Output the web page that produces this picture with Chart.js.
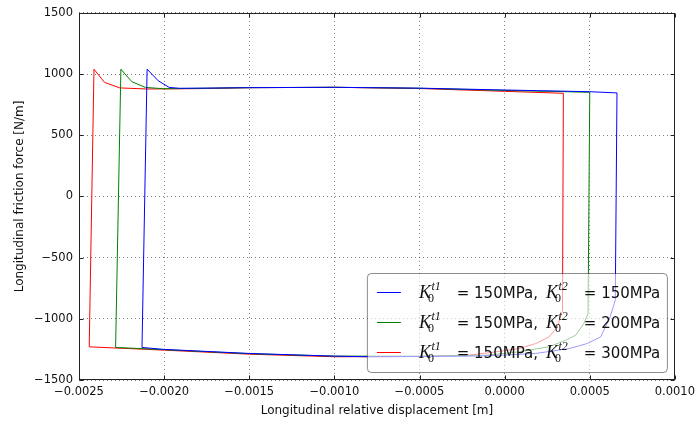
<!DOCTYPE html>
<html>
<head>
<meta charset="utf-8">
<script src="https://cdn.jsdelivr.net/npm/chart.js@4.4.1/dist/chart.umd.min.js"></script>
<style>
  html, body { margin: 0; padding: 0; background: #fff; }
  #wrap { width: 700px; height: 427px; }
</style>
</head>
<body>
<div id="wrap"><canvas id="friction"></canvas></div>
<script>
// friction loops: relative displacement [m] vs friction force [N/m]
const blueX = [-0.00213, -0.0021, -0.002035, -0.00197, -0.00191, -0.0017, -0.0015, -0.001, -0.0005, 0.0, 0.0005, 0.00066,
  0.00065, 0.00062, 0.000564, 0.000485, 0.00038, 0.000183, -0.00001, -0.00021, -0.0008, -0.001, -0.0015, -0.002, -0.00213];
const blueY = [-1234, 1040, 946, 891, 884, 886, 889, 892, 885, 870, 856, 846,
  -848, -984, -1148, -1202, -1243, -1283, -1297, -1305, -1310, -1305, -1283, -1250, -1234];

const greenX = [-0.002285, -0.002254, -0.00219, -0.00211, -0.002, -0.0017, -0.0015, -0.001, -0.0005, 0.0, 0.0003, 0.0005,
  0.00049, 0.000466, 0.000417, 0.000359, 0.00026, 0.000085, -0.00011, -0.0005, -0.001, -0.0015, -0.002, -0.002285];
const greenY = [-1234, 1040, 938, 891, 880, 885, 889, 892, 884, 866, 858, 851,
  -957, -1038, -1134, -1175, -1229, -1270, -1297, -1306, -1305, -1285, -1252, -1234];

const redX = [-0.00244, -0.002412, -0.00235, -0.00226, -0.0021, -0.0018, -0.0015, -0.001, -0.0005, 0.0, 0.000345,
  0.00034, 0.00031, 0.000261, 0.000183, 0.000085, -0.000052, -0.00021, -0.0005, -0.001, -0.0015, -0.002, -0.00244];
const redY = [-1229, 1040, 932, 887, 878, 881, 889, 892, 882, 859, 843,
  -930, -1066, -1148, -1202, -1243, -1270, -1297, -1308, -1310, -1289, -1256, -1229];

// tangential stiffness of the two contact layers [MPa]
const stiffnessT1 = [150, 150, 150];
const stiffnessT2 = [150, 200, 300];
const seriesColors = ['#0000ff', '#008000', '#ff0000'];

const xTickValues = [-0.0025, -0.002, -0.0015, -0.001, -0.0005, 0.0, 0.0005, 0.001];
const yTickValues = [-1500, -1000, -500, 0, 500, 1000, 1500];

const toPoints = (xs, ys) => xs.map((x, i) => ({ x, y: ys[i] }));
const minus = s => s.replace('-', '\u2212');
const fmt = (v, d) => minus((Math.abs(v) < 1e-12 ? 0 : v).toFixed(d));

// matplotlib-like box with inward ticks on all four sides
const frame = {
  id: 'frame',
  afterDatasetsDraw(chart) {
    const { ctx, chartArea: a, scales } = chart;
    const l = Math.round(a.left) + 0.5, r = Math.round(a.right) - 0.5;
    const t = Math.round(a.top) + 0.5, b = Math.round(a.bottom) - 0.5;
    ctx.save();
    ctx.strokeStyle = '#222';
    ctx.lineWidth = 1;
    ctx.strokeRect(l, t, r - l, b - t);
    ctx.beginPath();
    scales.x.ticks.forEach(tk => {
      const px = Math.round(scales.x.getPixelForValue(tk.value)) + 0.5;
      ctx.moveTo(px, b); ctx.lineTo(px, b - 4);
      ctx.moveTo(px, t); ctx.lineTo(px, t + 4);
    });
    scales.y.ticks.forEach(tk => {
      const py = Math.round(scales.y.getPixelForValue(tk.value)) + 0.5;
      ctx.moveTo(l, py); ctx.lineTo(l + 4, py);
      ctx.moveTo(r, py); ctx.lineTo(r - 4, py);
    });
    ctx.stroke();
    ctx.restore();
  }
};

// K_0^{t} symbol, returns x after it
function drawK(ctx, x, y, sup) {
  ctx.font = 'italic 18px "Liberation Serif"';
  ctx.fillText('K', x, y);
  const w = ctx.measureText('K').width;
  ctx.font = '12px "Liberation Serif"';
  ctx.fillText('0', x + w - 3, y + 4);
  const w0 = ctx.measureText('0').width;
  ctx.font = 'italic 12px "Liberation Serif"';
  ctx.fillText(sup, x + w + 0.5, y - 8);
  const ws = ctx.measureText(sup).width;
  return x + w + Math.max(w0 - 3, ws + 0.5);
}

const mathLegend = {
  id: 'mathLegend',
  afterDraw(chart) {
    const { ctx, chartArea: a } = chart;
    const rowH = 30, boxW = 300, boxH = 99;
    const right = a.right - 8, bottom = a.bottom - 8;
    const left = right - boxW, top = bottom - boxH;
    ctx.save();
    ctx.beginPath();
    ctx.roundRect(left + 0.5, top + 0.5, boxW, boxH, 4);
    ctx.fillStyle = 'rgba(255,255,255,0.6)';
    ctx.fill();
    ctx.strokeStyle = 'rgba(0,0,0,0.45)';
    ctx.lineWidth = 1;
    ctx.stroke();
    ctx.textBaseline = 'alphabetic';
    seriesColors.forEach((c, i) => {
      const cy = Math.round(top + 19 + i * rowH) + 0.5;
      ctx.beginPath();
      ctx.strokeStyle = c;
      ctx.lineWidth = 1;
      ctx.moveTo(left + 10, cy);
      ctx.lineTo(left + 34, cy);
      ctx.stroke();
      ctx.fillStyle = '#111';
      const base = cy + 5.5;
      let x = drawK(ctx, left + 52, base, 't1') + 16;
      ctx.font = '15px "DejaVu Sans"';
      const s1 = '= ' + stiffnessT1[i] + 'MPa,';
      ctx.fillText(s1, x, base);
      x += ctx.measureText(s1).width + 8;
      x = drawK(ctx, x, base, 't2') + 16;
      ctx.font = '15px "DejaVu Sans"';
      ctx.fillText('= ' + stiffnessT2[i] + 'MPa', x, base);
    });
    ctx.restore();
  }
};

const gridCommon = { color: 'rgba(0,0,0,0.5)', lineWidth: 1, drawTicks: false };
const tickFont = { family: '"DejaVu Sans"', size: 11.5 };

new Chart(document.getElementById('friction'), {
  type: 'scatter',
  data: {
    datasets: [
      { data: toPoints(blueX, blueY), borderColor: seriesColors[0] },
      { data: toPoints(greenX, greenY), borderColor: seriesColors[1] },
      { data: toPoints(redX, redY), borderColor: seriesColors[2] }
    ].map(d => Object.assign(d, { showLine: true, borderWidth: 1, pointRadius: 0, tension: 0, fill: false }))
  },
  options: {
    responsive: true,
    maintainAspectRatio: false,
    animation: false,
    layout: { padding: { top: 12, right: 24, left: 0, bottom: 0 } },
    plugins: { legend: { display: false }, tooltip: { enabled: false } },
    scales: {
      x: {
        type: 'linear',
        min: -0.0025,
        max: 0.001,
        afterBuildTicks: s => { s.ticks = xTickValues.map(v => ({ value: v })); },
        afterFit: s => { s.height = 47; },
        grid: gridCommon,
        border: { display: false, dash: [1, 3] },
        ticks: { color: '#111', font: tickFont, padding: 5, maxRotation: 0, callback: v => fmt(v, 4) },
        title: {
          display: true,
          text: 'Longitudinal relative displacement [m]',
          color: '#111',
          font: { family: '"DejaVu Sans"', size: 12 },
          padding: { top: 0, bottom: 9 }
        }
      },
      y: {
        min: -1500,
        max: 1500,
        afterBuildTicks: s => { s.ticks = yTickValues.map(v => ({ value: v })); },
        afterFit: s => { s.width = 79; },
        grid: gridCommon,
        border: { display: false, dash: [1, 3] },
        ticks: { color: '#111', font: tickFont, padding: 6, callback: v => fmt(v, 0) },
        title: {
          display: true,
          text: 'Longitudinal friction force [N/m]',
          color: '#111',
          font: { family: '"DejaVu Sans"', size: 12 },
          padding: { top: 13, bottom: 0 }
        }
      }
    }
  },
  plugins: [frame, mathLegend]
});
</script>
</body>
</html>
